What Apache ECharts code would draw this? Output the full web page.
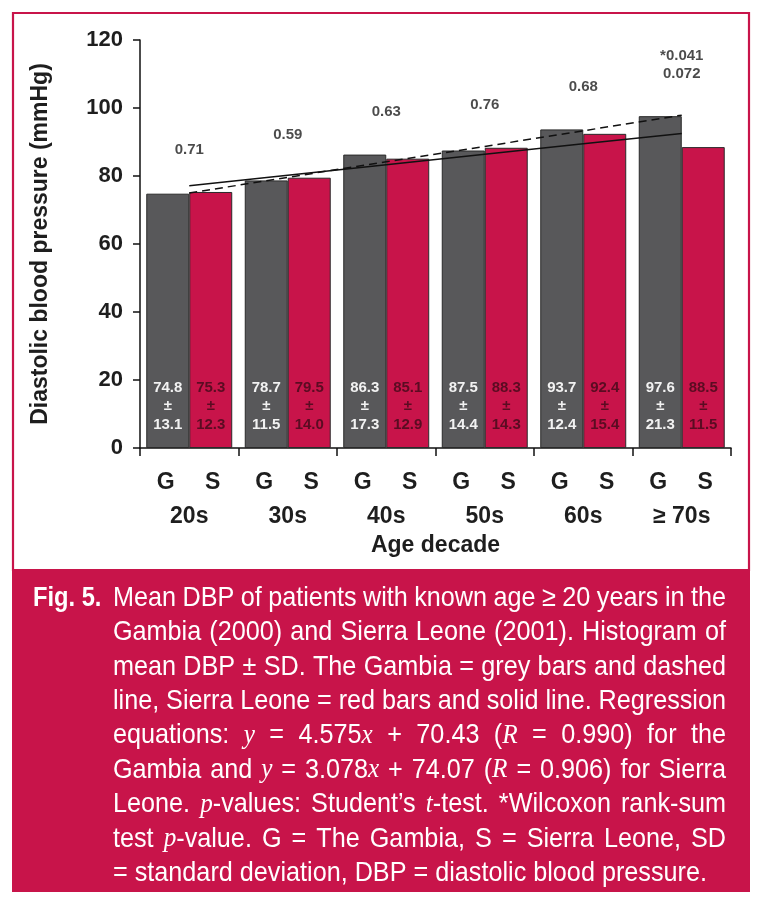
<!DOCTYPE html>
<html>
<head>
<meta charset="utf-8">
<script src="https://cdn.jsdelivr.net/npm/echarts@6/dist/echarts.min.js"></script>
<style>
html,body{margin:0;padding:0;background:#fff;}
#c{width:762px;height:904px;}
</style>
</head>
<body>
<div id="c"></div>
<script>
// ---- data ----
const decades = ['20s', '30s', '40s', '50s', '60s', '\u2265 70s'];
const gambiaMean = [74.8, 78.7, 86.3, 87.5, 93.7, 97.6];
const gambiaSD = [13.1, 11.5, 17.3, 14.4, 12.4, 21.3];
const sierraMean = [75.3, 79.5, 85.1, 88.3, 92.4, 88.5];
const sierraSD = [12.3, 14.0, 12.9, 14.3, 15.4, 11.5];
const pValues = ['0.71', '0.59', '0.63', '0.76', '0.68', '*0.041\n0.072'];
const gambiaFit = [75.0, 79.6, 84.2, 88.7, 93.3, 97.9];
const sierraFit = [77.1, 80.2, 83.3, 86.4, 89.5, 92.5];
const yMin = 0, yMax = 120, yStep = 20;
const groupLabels = ['G', 'S'];
const captionHead = 'Fig. 5.';
const captionLines = [
  'Mean DBP of patients with known age \u2265 20 years in the',
  'Gambia (2000) and Sierra Leone (2001). Histogram of',
  'mean DBP \u00b1 SD. The Gambia = grey bars and dashed',
  'line, Sierra Leone = red bars and solid line. Regression',
  'equations: _y_ = 4.575_x_ + 70.43 (_R_ = 0.990) for the',
  'Gambia and _y_ = 3.078_x_ + 74.07 (_R_ = 0.906) for Sierra',
  'Leone. _p_-values: Student\u2019s _t_-test. *Wilcoxon rank-sum',
  'test _p_-value. G = The Gambia, S = Sierra Leone, SD',
  '= standard deviation, DBP = diastolic blood pressure.'
];

// ---- style ----
const RED = '#c8144a';
const GREY = '#58585a';
const INK = '#1e1e1e';
const SANS = '"Liberation Sans", Arial, sans-serif';
const SERIF = '"Liberation Serif", "Times New Roman", serif';

const chart = echarts.init(document.getElementById('c'), null, {renderer: 'canvas'});

function barLabel(means, sds, color) {
  return {
    show: true,
    position: 'insideBottom',
    distance: 14,
    color: color,
    fontFamily: SANS,
    fontWeight: 'bold',
    fontSize: 15,
    lineHeight: 18.5,
    formatter: p => means[p.dataIndex].toFixed(1) + '\n\u00b1\n' + sds[p.dataIndex].toFixed(1)
  };
}

// ---- caption layout (word-justified, real text) ----
const measureCtx = document.createElement('canvas').getContext('2d');
const CAP_SIZE = 28, CAP_SCALE = 0.9;
const capNormal = CAP_SIZE + 'px ' + SANS;
const capItalic = 'italic ' + CAP_SIZE + 'px ' + SERIF;
const capBold = 'bold ' + CAP_SIZE + 'px ' + SANS;
function mw(text, font) { measureCtx.font = font; return measureCtx.measureText(text).width * CAP_SCALE; }

function parseLine(line) {
  const parts = line.split('_');
  const words = [[]];
  parts.forEach((part, k) => {
    const italic = k % 2 === 1;
    const pieces = part.split(' ');
    pieces.forEach((pc, j) => {
      if (j > 0) words.push([]);
      if (pc.length) words[words.length - 1].push({t: pc, italic});
    });
  });
  return words.filter(w => w.length);
}

const graphics = [];
// frame
graphics.push({type: 'rect', shape: {x: 13, y: 13, width: 736, height: 557},
  style: {fill: 'none', stroke: RED, lineWidth: 2.2}, z: 0});
graphics.push({type: 'rect', shape: {x: 12, y: 570, width: 738, height: 322},
  style: {fill: RED}, z: 0});

const capLeft = 113, capRight = 726, capTop = 598, capStep = 34.4;
graphics.push({type: 'text', x: 33, y: capTop, scaleX: CAP_SCALE * 0.94, z: 2,
  style: {text: captionHead, x: 0, y: 0, font: capBold, fill: '#fff', textAlign: 'left', textVerticalAlign: 'middle'}});

captionLines.forEach((line, li) => {
  const words = parseLine(line);
  const widths = words.map(w => w.reduce((s, seg) => s + mw(seg.t, seg.italic ? capItalic : capNormal), 0));
  const total = widths.reduce((a, b) => a + b, 0);
  const justify = li < captionLines.length - 1;
  const gap = justify ? (capRight - capLeft - total) / (words.length - 1) : mw(' ', capNormal);
  let x = capLeft;
  const y = capTop + li * capStep;
  words.forEach((w, wi) => {
    let sx = x;
    w.forEach(seg => {
      const f = seg.italic ? capItalic : capNormal;
      graphics.push({type: 'text', x: sx, y: y, scaleX: CAP_SCALE, z: 2,
        style: {text: seg.t, x: 0, y: 0, font: f, fill: '#fff', textAlign: 'left', textVerticalAlign: 'middle'}});
      sx += mw(seg.t, f);
    });
    x += widths[wi] + gap;
  });
});

const option = {
  animation: false,
  backgroundColor: '#fff',
  grid: {left: 140, right: 31, top: 40, bottom: 456, containLabel: false},
  xAxis: {
    type: 'category',
    data: decades,
    boundaryGap: true,
    name: 'Age decade',
    nameLocation: 'middle',
    nameGap: 86,
    nameTextStyle: {fontFamily: SANS, fontWeight: 'bold', fontSize: 23, color: INK},
    axisLine: {show: true, lineStyle: {color: '#111', width: 1.5}},
    axisTick: {show: true, length: 8, lineStyle: {color: '#111', width: 1.5}},
    axisLabel: {
      margin: 18,
      interval: 0,
      formatter: v => '{g|' + groupLabels[0] + '}{s|' + groupLabels[1] + '}\n{d|' + v + '}',
      rich: {
        g: {width: 47, align: 'center', fontFamily: SANS, fontWeight: 'bold', fontSize: 23, color: INK, lineHeight: 34},
        s: {width: 47, align: 'center', fontFamily: SANS, fontWeight: 'bold', fontSize: 23, color: INK, lineHeight: 34},
        d: {fontFamily: SANS, fontWeight: 'bold', fontSize: 23, color: INK, lineHeight: 34}
      }
    },
    splitLine: {show: false}
  },
  yAxis: {
    type: 'value',
    min: yMin, max: yMax, interval: yStep,
    name: 'Diastolic blood pressure (mmHg)',
    nameLocation: 'middle',
    nameGap: 88,
    nameTextStyle: {fontFamily: SANS, fontWeight: 'bold', fontSize: 23, color: INK},
    axisLine: {show: true, lineStyle: {color: '#111', width: 1.5}},
    axisTick: {show: true, length: 7, lineStyle: {color: '#111', width: 1.5}},
    axisLabel: {margin: 17, fontFamily: SANS, fontWeight: 'bold', fontSize: 22, color: INK},
    splitLine: {show: false}
  },
  series: [
    {
      name: 'The Gambia', type: 'bar', data: gambiaMean,
      barGap: '0%', barCategoryGap: '12.7%',
      itemStyle: {color: GREY, borderColor: '#2a2a2a', borderWidth: 1},
      label: barLabel(gambiaMean, gambiaSD, '#f2f2f2'), z: 2
    },
    {
      name: 'Sierra Leone', type: 'bar', data: sierraMean,
      barGap: '0%', barCategoryGap: '12.7%',
      itemStyle: {color: RED, borderColor: '#2a2a2a', borderWidth: 1},
      label: barLabel(sierraMean, sierraSD, '#5a0c22'), z: 2
    },
    {
      name: 'Gambia fit', type: 'line', data: gambiaFit, symbol: 'none', z: 5,
      lineStyle: {color: '#111', width: 1.5, type: [8, 5]}
    },
    {
      name: 'Sierra Leone fit', type: 'line', data: sierraFit, symbol: 'none', z: 5,
      lineStyle: {color: '#111', width: 1.5}
    },
    {
      name: 'p-values', type: 'scatter', symbolSize: 1, z: 6,
      itemStyle: {color: 'transparent'},
      data: gambiaMean.map((g, i) => Math.max(g, sierraMean[i])),
      label: {
        show: true, position: 'top', distance: 33,
        fontFamily: SANS, fontWeight: 'bold', fontSize: 15, lineHeight: 18, color: INK,
        formatter: p => pValues[p.dataIndex]
      },
      silent: true
    }
  ],
  graphic: graphics
};
chart.setOption(option);
</script>
</body>
</html>
